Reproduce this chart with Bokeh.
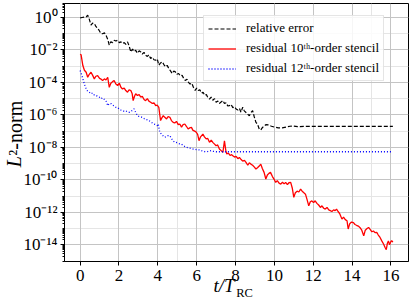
from bokeh.plotting import figure
from bokeh.models import (Range1d, FixedTicker, CustomJSTickFormatter, LinearAxis, LogAxis,
                          Legend, LegendItem, ColumnDataSource, Grid)
from bokeh.embed import file_html
from bokeh.resources import INLINE

# ---- data: (t/T_RC, log10 of L2-norm) ----
err_pts = [(0.00, -0.02), (0.10, 0.00), (0.20, 0.02), (0.31, 0.04), (0.39, 0.14), (0.47, -0.10),
           (0.56, -0.47), (0.64, -0.35), (0.73, -0.37), (0.81, -0.55), (0.90, -0.68), (0.98, -0.80),
           (1.07, -0.99), (1.16, -1.00), (1.25, -0.95), (1.33, -1.09), (1.42, -1.35), (1.50, -1.70),
           (1.58, -1.50), (1.67, -1.55), (1.75, -1.40), (1.84, -1.45), (1.93, -1.40), (2.02, -1.55),
           (2.10, -1.50), (2.18, -1.60), (2.27, -1.55), (2.35, -1.65), (2.44, -1.50), (2.52, -1.75),
           (2.61, -2.12), (2.70, -1.95), (2.78, -2.10), (2.86, -2.02), (2.95, -2.20), (3.04, -2.05),
           (3.12, -2.12), (3.20, -2.25), (3.29, -2.15), (3.37, -2.33), (3.46, -2.40), (3.54, -2.30),
           (3.63, -2.53), (3.72, -2.45), (3.80, -2.60), (3.89, -2.63), (3.97, -2.55), (4.05, -2.94),
           (4.14, -2.80), (4.23, -2.73), (4.31, -2.90), (4.40, -3.04), (4.48, -2.95), (4.57, -3.15),
           (4.66, -3.30), (4.74, -3.45), (4.82, -3.30), (4.90, -3.35), (4.98, -3.50), (5.07, -3.45),
           (5.16, -3.60), (5.25, -3.56), (5.33, -3.75), (5.41, -3.88), (5.50, -3.80), (5.58, -4.00),
           (5.66, -4.10), (5.75, -4.05), (5.83, -4.30), (5.92, -4.49), (6.00, -4.35), (6.08, -4.50),
           (6.16, -4.45), (6.25, -4.65), (6.33, -4.60), (6.41, -4.80), (6.50, -4.75), (6.58, -4.95),
           (6.66, -5.02), (6.75, -4.90), (6.83, -5.10), (6.92, -5.00), (7.00, -5.22), (7.09, -5.15),
           (7.17, -5.30), (7.26, -5.20), (7.35, -5.12), (7.43, -5.30), (7.52, -5.25), (7.60, -5.45),
           (7.69, -5.43), (7.77, -5.35), (7.86, -5.55), (7.94, -5.50), (8.03, -5.63), (8.12, -5.70),
           (8.20, -5.60), (8.28, -5.84), (8.37, -5.53), (8.45, -5.75), (8.54, -5.85), (8.62, -5.95),
           (8.71, -6.05), (8.80, -5.85), (8.88, -5.74), (8.96, -6.10), (9.05, -6.46), (9.13, -6.56),
           (9.22, -6.87), (9.30, -6.93), (9.39, -6.77), (9.47, -6.70), (9.56, -6.60), (9.70, -6.62),
           (9.85, -6.70), (10.00, -6.75), (10.20, -6.80), (10.40, -6.80), (10.60, -6.75), (10.80, -6.70),
           (10.95, -6.68), (11.20, -6.72), (11.60, -6.71), (12.00, -6.71), (13.00, -6.71), (14.00, -6.71),
           (15.00, -6.71), (16.10, -6.71)]

res10_pts = [(0.00, -2.26), (0.05, -2.30), (0.14, -2.96), (0.22, -3.25), (0.31, -3.37), (0.39, -3.68),
             (0.47, -3.50), (0.56, -3.37), (0.64, -3.55), (0.73, -3.78), (0.81, -3.62), (0.90, -3.58),
             (1.00, -3.75), (1.08, -3.80), (1.16, -3.88), (1.25, -3.78), (1.33, -3.85), (1.42, -3.68),
             (1.50, -4.30), (1.58, -4.05), (1.67, -3.95), (1.75, -3.88), (1.84, -4.10), (1.93, -4.19),
             (2.02, -4.05), (2.10, -4.30), (2.18, -4.40), (2.27, -4.35), (2.35, -4.50), (2.44, -4.60),
             (2.52, -4.45), (2.61, -4.50), (2.68, -4.70), (2.73, -5.12), (2.80, -4.85), (2.86, -4.70),
             (2.95, -4.80), (3.04, -4.75), (3.12, -4.90), (3.20, -4.85), (3.29, -5.05), (3.37, -5.12),
             (3.46, -5.00), (3.54, -5.15), (3.63, -5.22), (3.72, -5.30), (3.80, -5.25), (3.89, -5.43),
             (3.97, -5.40), (4.05, -5.53), (4.14, -6.35), (4.20, -6.20), (4.28, -6.05), (4.36, -6.15),
             (4.45, -6.25), (4.53, -6.10), (4.62, -6.15), (4.70, -6.35), (4.79, -6.46), (4.87, -6.50),
             (4.96, -6.40), (5.05, -6.60), (5.13, -6.56), (5.22, -6.75), (5.30, -6.60), (5.39, -6.56),
             (5.47, -6.70), (5.56, -6.87), (5.64, -6.80), (5.73, -6.77), (5.81, -6.95), (5.90, -7.00),
             (5.98, -7.07), (6.05, -7.20), (6.12, -7.59), (6.20, -7.35), (6.32, -7.18), (6.40, -7.35),
             (6.49, -7.48), (6.57, -7.45), (6.66, -7.69), (6.75, -7.55), (6.83, -7.69), (6.92, -7.80),
             (7.00, -7.90), (7.08, -7.85), (7.17, -8.10), (7.26, -8.20), (7.35, -8.31), (7.43, -7.59),
             (7.50, -8.20), (7.55, -8.41), (7.63, -8.35), (7.72, -8.50), (7.80, -8.45), (7.86, -8.51),
             (7.95, -8.60), (8.03, -8.55), (8.12, -8.70), (8.20, -8.62), (8.29, -8.75), (8.37, -8.85),
             (8.46, -8.80), (8.54, -8.93), (8.63, -9.10), (8.71, -8.95), (8.79, -9.03), (8.88, -9.10),
             (8.96, -9.20), (9.05, -9.33), (9.13, -9.25), (9.22, -9.15), (9.30, -9.03), (9.38, -9.30),
             (9.47, -9.54), (9.56, -9.95), (9.64, -9.70), (9.72, -9.60), (9.80, -9.54), (9.90, -9.80),
             (9.98, -9.95), (10.07, -10.16), (10.15, -10.05), (10.24, -10.20), (10.33, -10.26),
             (10.42, -10.15), (10.50, -10.25), (10.58, -10.16), (10.67, -10.30), (10.75, -10.18),
             (10.84, -10.16), (10.92, -10.50), (11.00, -11.08), (11.08, -10.80), (11.17, -10.70),
             (11.26, -10.75), (11.35, -10.57), (11.43, -10.70), (11.52, -10.80), (11.60, -10.88),
             (11.68, -11.20), (11.77, -11.60), (11.85, -11.35), (11.93, -11.30), (12.02, -11.40),
             (12.10, -11.29), (12.19, -11.45), (12.28, -11.55), (12.37, -11.70), (12.45, -11.60),
             (12.54, -11.75), (12.62, -11.80), (12.71, -11.70), (12.80, -11.85), (12.88, -11.90),
             (12.96, -11.95), (13.05, -11.85), (13.13, -11.90), (13.20, -11.80), (13.28, -11.95),
             (13.37, -12.10), (13.48, -12.42), (13.56, -12.30), (13.65, -12.45), (13.74, -12.52),
             (13.80, -13.03), (13.88, -12.70), (13.97, -12.60), (14.07, -12.63), (14.15, -12.75),
             (14.23, -12.80), (14.32, -12.85), (14.40, -12.93), (14.50, -13.10), (14.60, -13.45),
             (14.68, -13.10), (14.77, -13.00), (14.85, -12.93), (14.93, -13.05), (15.02, -13.20),
             (15.10, -13.15), (15.18, -13.25), (15.27, -13.24), (15.35, -13.40), (15.44, -13.55),
             (15.53, -13.76), (15.62, -13.95), (15.70, -14.17), (15.76, -14.30), (15.82, -13.90),
             (15.87, -13.76), (15.93, -14.00), (16.00, -13.80), (16.04, -13.75), (16.10, -13.84)]

res12_pts = [(0.00, -3.27), (0.07, -3.50), (0.14, -3.78), (0.22, -4.10), (0.31, -4.40), (0.39, -4.55),
             (0.47, -4.60), (0.56, -4.70), (0.64, -4.65), (0.73, -4.78), (0.82, -4.80), (0.90, -4.85),
             (0.98, -4.90), (1.07, -5.00), (1.16, -4.95), (1.25, -5.05), (1.33, -5.12), (1.42, -5.43),
             (1.50, -5.30), (1.58, -5.30), (1.67, -5.40), (1.75, -5.45), (1.84, -5.53), (1.93, -5.55),
             (2.02, -5.65), (2.10, -5.70), (2.18, -5.74), (2.27, -5.78), (2.35, -5.75), (2.44, -5.82),
             (2.52, -5.84), (2.61, -5.80), (2.70, -5.70), (2.78, -5.63), (2.86, -5.85), (2.95, -6.05),
             (3.04, -6.10), (3.12, -6.12), (3.20, -6.15), (3.29, -6.22), (3.37, -6.28), (3.46, -6.30),
             (3.54, -6.35), (3.63, -6.42), (3.72, -6.50), (3.80, -6.56), (3.89, -6.60), (3.97, -6.66),
             (4.02, -6.56), (4.10, -7.07), (4.20, -7.20), (4.28, -7.30), (4.36, -7.38), (4.45, -7.32),
             (4.53, -7.28), (4.62, -7.28), (4.70, -7.45), (4.79, -7.60), (4.87, -7.69), (4.96, -7.70),
             (5.05, -7.75), (5.13, -7.78), (5.20, -7.79), (5.30, -7.88), (5.39, -7.95), (5.47, -8.00),
             (5.56, -8.03), (5.64, -8.05), (5.73, -8.08), (5.81, -8.10), (5.90, -8.12), (5.98, -8.14),
             (6.07, -8.15), (6.15, -8.16), (6.24, -8.20), (6.32, -8.24), (6.41, -8.26), (6.49, -8.27),
             (6.58, -8.25), (6.66, -8.22), (6.75, -8.20), (6.85, -8.24), (7.00, -8.27), (7.50, -8.27),
             (8.00, -8.27), (10.00, -8.27), (12.00, -8.27), (14.00, -8.27), (16.10, -8.27)]

x_ticks = [0, 2, 4, 6, 8, 10, 12, 14, 16]
y_tick_exps = [0, -2, -4, -6, -8, -10, -12, -14]
labels = ["relative error", "residual 10\u1d57\u02b0-order stencil", "residual 12\u1d57\u02b0-order stencil"]

FONT = "Times New Roman"   # resolved by fontconfig to the Liberation serif face


def src(pts):
    return ColumnDataSource(dict(t=[a for a, b in pts], v=[10 ** b for a, b in pts]))


p = figure(width=412, height=307, y_axis_type="log",
           x_axis_location=None, y_axis_location=None,
           x_range=Range1d(-0.805, 16.905), y_range=Range1d(10 ** -15.03, 10 ** 0.862),
           output_backend="svg", toolbar_location=None,
           min_border_left=62, min_border_right=4, min_border_top=3, min_border_bottom=46)
p.background_fill_color = "white"
p.border_fill_color = "white"
p.outline_line_color = "black"
p.outline_line_width = 1
p.outline_line_alpha = 1

major_y = [10.0 ** e for e in y_tick_exps]
minor_y = [m * 10.0 ** k for k in range(-16, 1) for m in range(1, 10)
           if not (m == 1 and k in y_tick_exps)]

common = dict(axis_line_color="black", axis_line_width=1,
              major_tick_line_color="black", minor_tick_line_color="black",
              major_tick_in=0, major_tick_out=4, minor_tick_in=0,
              major_label_text_font=FONT, major_label_text_font_style="normal",
              major_label_text_font_size="17px", major_label_text_color="black")

xax = LinearAxis(ticker=FixedTicker(ticks=x_ticks, minor_ticks=[]),
                 minor_tick_out=0, major_label_standoff=4, **common)
yax = LogAxis(ticker=FixedTicker(ticks=major_y, minor_ticks=minor_y),
              formatter=CustomJSTickFormatter(code="""
const e = Math.round(Math.log10(tick));
const sup = {"-":"\u207b","0":"\u2070","1":"\u00b9","2":"\u00b2","3":"\u00b3","4":"\u2074",
             "5":"\u2075","6":"\u2076","7":"\u2077","8":"\u2078","9":"\u2079"};
return "10" + String(e).split("").map(c => sup[c]).join("");
"""), minor_tick_out=2, major_label_standoff=3, **common)
p.add_layout(xax, "below")
p.add_layout(yax, "left")

p.add_layout(Grid(dimension=0, ticker=FixedTicker(ticks=x_ticks), grid_line_color="#c4c4c4", grid_line_width=1))
p.add_layout(Grid(dimension=1, ticker=FixedTicker(ticks=major_y), grid_line_color="#c4c4c4", grid_line_width=1))

r_err = p.line("t", "v", source=src(err_pts), line_color="black", line_width=1.2, line_dash="4 2")
r_10 = p.line("t", "v", source=src(res10_pts), line_color="#ff0000", line_width=1.3)
r_12 = p.line("t", "v", source=src(res12_pts), line_color="#0000ff", line_width=1.3, line_dash="1 2")

legend = Legend(items=[LegendItem(label=labels[0], renderers=[r_err]),
                       LegendItem(label=labels[1], renderers=[r_10]),
                       LegendItem(label=labels[2], renderers=[r_12])],
                location=(139, 180),
                label_text_font=FONT, label_text_font_style="normal", label_text_font_size="13px",
                label_text_color="black", glyph_width=28, glyph_height=15, label_height=15,
                label_standoff=10, spacing=4, padding=4,
                border_line_color="#cccccc", border_line_width=1,
                background_fill_color="white", background_fill_alpha=0.85)
p.add_layout(legend)


def text_axis(kind, pos, text, size, style, standoff, vertical=False):
    ax = kind(ticker=FixedTicker(ticks=[pos], minor_ticks=[]),
              formatter=CustomJSTickFormatter(code="return %r;" % text))
    ax.axis_line_color = None
    ax.major_tick_line_color = None
    ax.minor_tick_line_color = None
    ax.major_tick_in = 0
    ax.major_tick_out = 0
    ax.minor_tick_in = 0
    ax.minor_tick_out = 0
    ax.major_label_standoff = standoff
    ax.major_label_text_font = FONT
    ax.major_label_text_font_size = size
    ax.major_label_text_font_style = style
    ax.major_label_text_color = "black"
    if vertical:
        ax.major_label_orientation = "vertical"
    return ax


# x-axis label  t/T_RC  (two text rows stacked below the tick labels)
p.add_layout(text_axis(LinearAxis, 7.41, "t/T", "19px", "italic", -9), "below")
p.add_layout(text_axis(LinearAxis, 8.46, "RC", "12.5px", "normal", -13), "below")
# y-axis label  L^2-norm
p.add_layout(text_axis(LogAxis, 10 ** -6.82, "\u00b2-norm", "20px", "normal", -6, True), "left")
p.add_layout(text_axis(LogAxis, 10 ** -8.88, "L", "20px", "italic", -24, True), "left")

open("out.html", "w", encoding="utf-8").write(file_html(p, INLINE))
